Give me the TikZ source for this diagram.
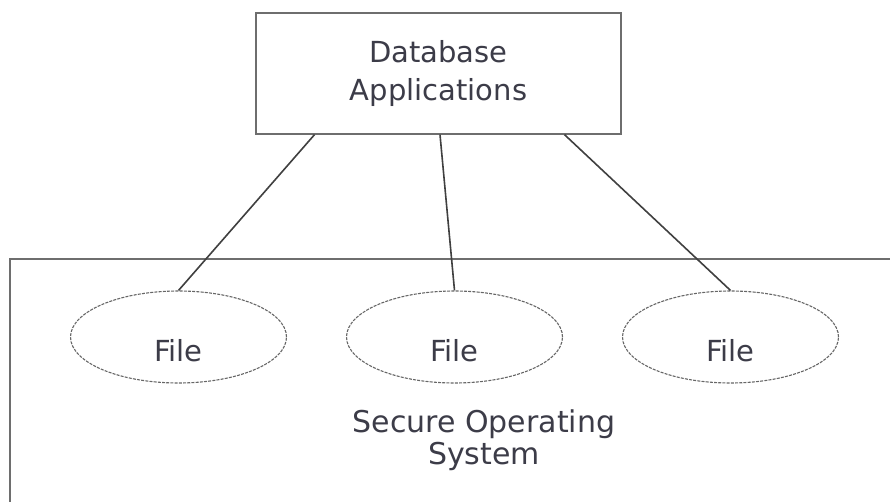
\documentclass[tikz,border=0pt]{standalone}
\usepackage{fontspec}
\setmainfont{DejaVu Sans}
\usetikzlibrary{shapes.geometric}
\definecolor{inkgray}{HTML}{3C3C48}
\definecolor{edgegray}{HTML}{6E6E6E}
\begin{document}
\begin{tikzpicture}[
    x=1pt, y=1pt,
    every node/.style={text=inkgray, inner sep=2pt},
    appbox/.style={draw=edgegray, line width=1.3pt, minimum width=365pt, minimum height=121pt, align=center, font=\fontsize{29}{38}\selectfont},
    osbox/.style={draw=edgegray, line width=1.3pt, minimum width=890pt, minimum height=253pt},
    filenode/.style={draw=black!60, ellipse, dash pattern=on 3pt off 1.2pt, line width=1.1pt, minimum width=216pt, minimum height=92pt},
    filelabel/.style={font=\fontsize{29}{34}\selectfont},
    oslabel/.style={align=center, font=\fontsize{30}{32}\selectfont},
    link/.style={draw=black!75, line width=1.6pt}
]
\useasboundingbox (0,0) rectangle (890,501);
\fill[white] (0,0) rectangle (890,501);
\node[osbox] (os) at (455,115.5) {};
\node[appbox] (app) at (438.5,427.5) {Database\\Applications};
\node[filenode] (f1) at (178.5,164) {};
\node[filenode] (f2) at (454.5,164) {};
\node[filenode] (f3) at (730.5,164) {};
\node[filelabel] (t1) at (178.5,150) {File};
\node[filelabel] (t2) at (454.5,150) {File};
\node[filelabel] (t3) at (730.5,150) {File};
\node[oslabel] (osname) at (484,61) {Secure Operating\\System};
\draw[link] ([xshift=-124pt]app.south) -- (f1.north);
\draw[link] ([xshift=1.5pt]app.south) -- (f2.north);
\draw[link] ([xshift=126pt]app.south) -- (f3.north);
\end{tikzpicture}
\end{document}
